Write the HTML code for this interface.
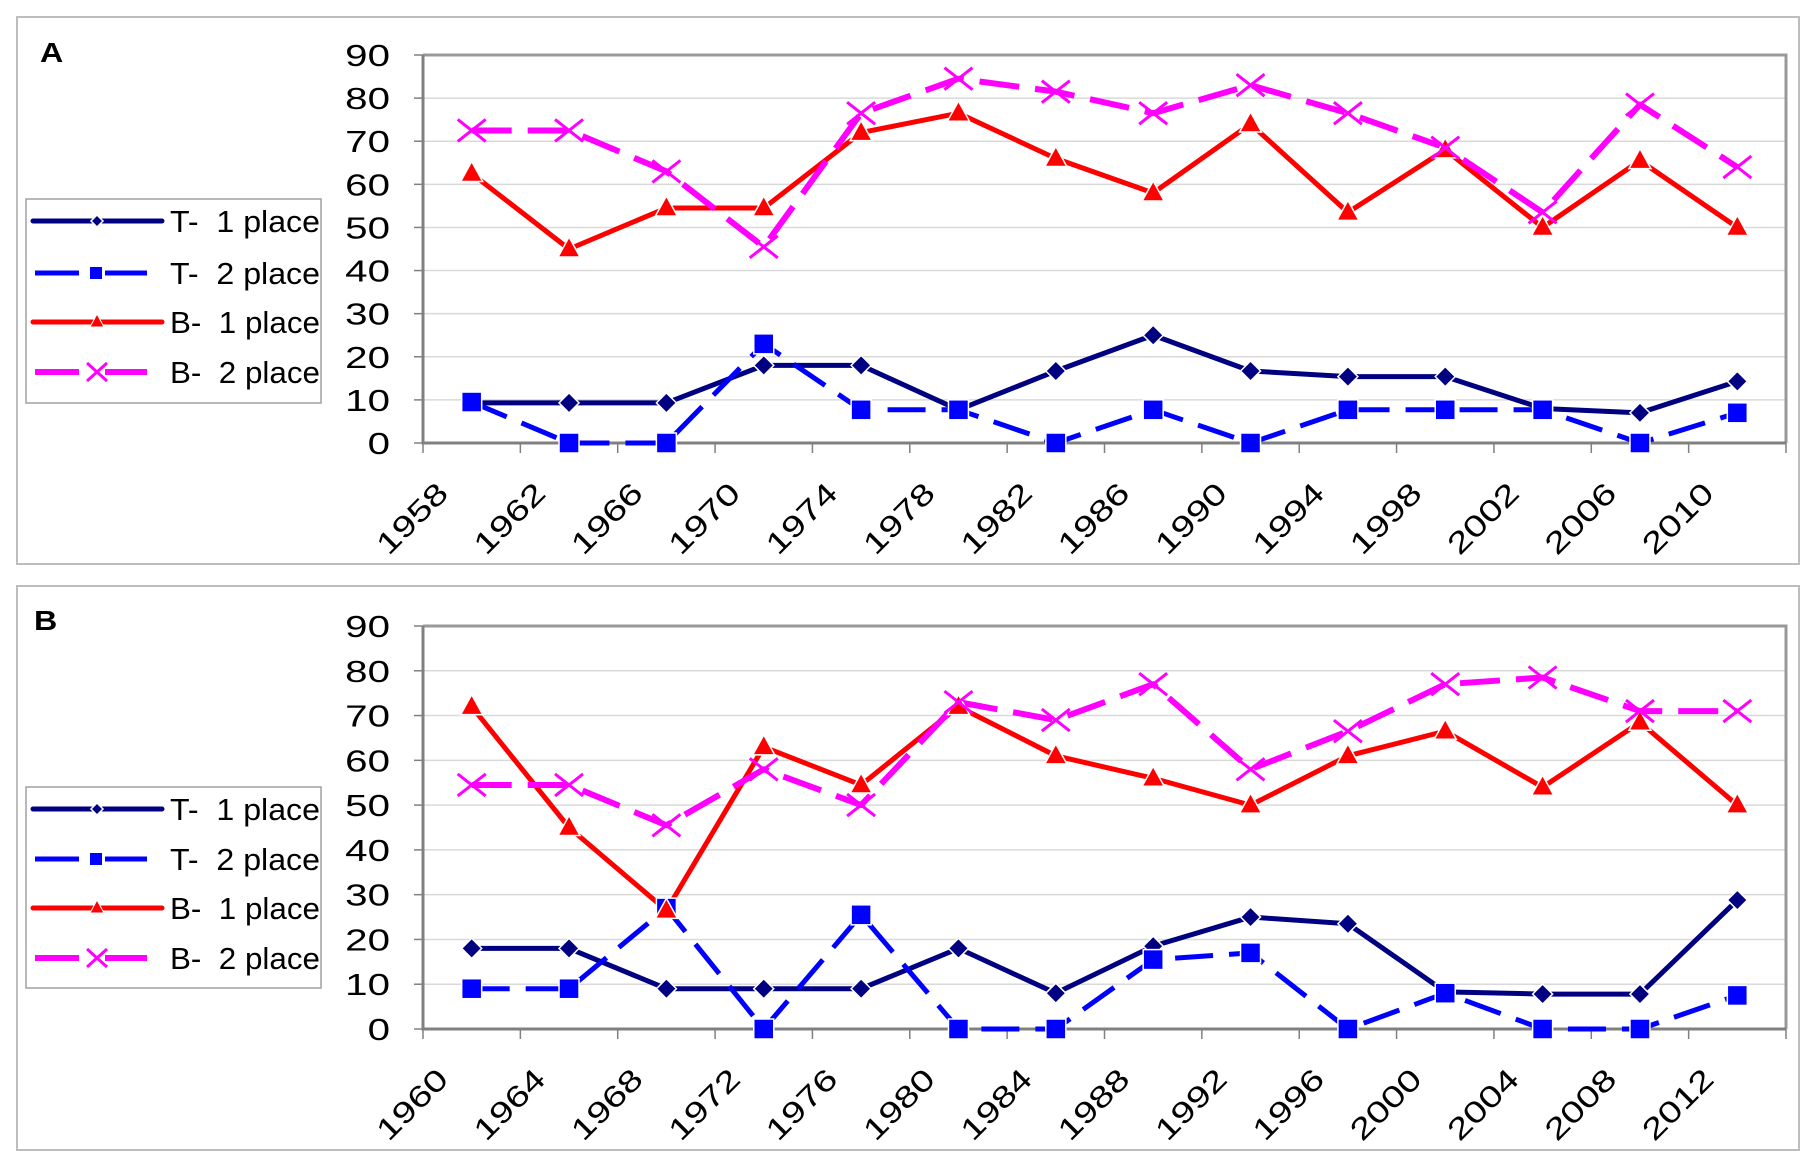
<!DOCTYPE html>
<html><head><meta charset="utf-8">
<style>
html,body{margin:0;padding:0;background:#fff;}
svg{display:block;}
text{font-family:"Liberation Sans",Arial,sans-serif;}
</style></head>
<body>
<svg id="s" width="1806" height="1171" xmlns="http://www.w3.org/2000/svg"></svg>
<script>
const s=document.getElementById('s');
let h='';
const panels=[
 {box:[17,17,1799,564],top:55,bot:443,label:'A',lab:[40,62],legTop:199,legBot:403,ents:[221,273,322,372],
  start:1958,
  T1:[9.3,9.3,9.3,18,18,7.7,16.7,25,16.7,15.4,15.4,8,7,14.3],
  T2:[9.5,0,0,23,7.7,7.7,0,7.7,0,7.7,7.7,7.7,0,7],
  B1:[62.5,45,54.5,54.5,72,76.5,66,58,74,53.5,68,50,65.5,50],
  B2:[72.5,72.5,63,45.5,76.5,84.5,81.5,76.5,83,76.5,68.5,53.5,78.5,64]},
 {box:[17,586,1799,1150],top:626,bot:1029,label:'B',lab:[34,630],legTop:787,legBot:988,ents:[809,859,908,958],
  start:1960,
  T1:[18,18,9,9,9,18,8,18.5,25,23.5,8.3,7.8,7.8,28.8],
  T2:[9,9,27,0,25.5,0,0,15.5,17,0,8,0,0,7.5],
  B1:[72,45,26.5,63,54.5,72,61,56,50,61,66.5,54,68.5,50],
  B2:[54.5,54.5,45.5,58,50,73,69,77,58,66.5,77,78.5,71,71]}
];
const L=423,R=1786,N=14,cw=(R-L)/N;
function mk(type,x,y){
 if(type=='T1') return `<polygon points="${x},${y-10} ${x+10},${y} ${x},${y+10} ${x-10},${y}" fill="#000080" stroke="#fff" stroke-width="1.5"/>`;
 if(type=='T2') return `<rect x="${x-10}" y="${y-10}" width="20" height="20" fill="#0000ff" stroke="#fff" stroke-width="1.5"/>`;
 if(type=='B1') return `<polygon points="${x},${y-12} ${x+11},${y+8} ${x-11},${y+8}" fill="#ff0000" stroke="#fff" stroke-width="1.5"/>`;
 return `<path d="M${x-14},${y-11}L${x+14},${y+11}M${x-14},${y+11}L${x+14},${y-11}" stroke="#ff00ff" stroke-width="3"/>`;
}
const sty={T1:['#000080','',5],T2:['#0000ff','38 16',5],B1:['#ff0000','',5],B2:['#ff00ff','40 16',6]};
const names={T1:'T-  1 place',T2:'T-  2 place',B1:'B-  1 place',B2:'B-  2 place'};
for(const p of panels){
 const [x1,y1,x2,y2]=p.box;
 h+=`<rect x="${x1}" y="${y1}" width="${x2-x1}" height="${y2-y1}" fill="#fff" stroke="#bdbdbd" stroke-width="2"/>`;
 h+=`<text x="0" y="0" font-size="28" font-weight="bold" transform="translate(${p.lab[0]},${p.lab[1]}) scale(1.15,1)">${p.label}</text>`;
 const st=(p.bot-p.top)/9;
 const Y=v=>p.bot-v/10*st;
 for(let i=0;i<=9;i++){
  const y=p.bot-i*st;
  if(i>0&&i<9) h+=`<line x1="${L}" y1="${y}" x2="${R}" y2="${y}" stroke="#d9d9d9" stroke-width="1.5"/>`;
  h+=`<line x1="${L-9}" y1="${y}" x2="${L}" y2="${y}" stroke="#808080" stroke-width="1.5"/>`;
  h+=`<text x="0" y="0" font-size="31" text-anchor="end" transform="translate(390,${y+11}) scale(1.3,1)">${i*10}</text>`;
 }
 h+=`<path d="M${L},${p.top}H${R}V${p.bot}" fill="none" stroke="#999" stroke-width="3"/>`;
 h+=`<path d="M${L},${p.top}V${p.bot}H${R}" fill="none" stroke="#808080" stroke-width="3"/>`;
 for(let k=0;k<=N;k++){
  const x=L+k*cw;
  h+=`<line x1="${x}" y1="${p.bot}" x2="${x}" y2="${p.bot+10}" stroke="#808080" stroke-width="1.5"/>`;
 }
 for(let k=0;k<N;k++){
  const x=L+k*cw;
  h+=`<text x="0" y="0" font-size="30" text-anchor="end" transform="translate(${x+27},${p.bot+52}) rotate(-45) scale(1.3,1)">${p.start+4*k}</text>`;
 }
 for(const key of ['T1','T2','B1','B2']){
  const [c,d,w]=sty[key];
  const pts=p[key].map((v,i)=>`${L+cw/2+i*cw},${Y(v)}`).join(' ');
  h+=`<polyline points="${pts}" fill="none" stroke="${c}" stroke-width="${w}" ${d?`stroke-dasharray="${d}"`:''} stroke-linejoin="round"/>`;
 }
 for(const key of ['T1','T2','B1','B2']) p[key].forEach((v,i)=>{h+=mk(key,L+cw/2+i*cw,Y(v));});
 h+=`<rect x="26" y="${p.legTop}" width="295" height="${p.legBot-p.legTop}" fill="#fff" stroke="#a0a0a0" stroke-width="1.5"/>`;
 ['T1','T2','B1','B2'].forEach((key,j)=>{
  const y=p.ents[j]; const [c,d,w]=sty[key];
  if(d) h+=`<line x1="35" y1="${y}" x2="79" y2="${y}" stroke="${c}" stroke-width="${w}"/><line x1="105" y1="${y}" x2="147" y2="${y}" stroke="${c}" stroke-width="${w}"/>`;
  else h+=`<line x1="33" y1="${y}" x2="162" y2="${y}" stroke="${c}" stroke-width="${w}" stroke-linecap="round"/>`;
  let m='';
  if(key=='T1') m=`<polygon points="97,${y-6} 103,${y} 97,${y+6} 91,${y}" fill="#000080" stroke="#fff" stroke-width="1.5"/>`;
  if(key=='T2') m=`<rect x="90" y="${y-6}" width="12" height="12" fill="#0000ff"/>`;
  if(key=='B1') m=`<polygon points="97,${y-8} 104,${y+5} 90,${y+5}" fill="#ff0000" stroke="#fff" stroke-width="1"/>`;
  if(key=='B2') m=`<path d="M87,${y-9}L107,${y+9}M87,${y+9}L107,${y-9}" stroke="#ff00ff" stroke-width="3"/>`;
  h+=m;
  h+=`<text x="170" y="${y+11}" font-size="31" textLength="150" lengthAdjust="spacingAndGlyphs" xml:space="preserve">${names[key]}</text>`;
 });
}
s.innerHTML=h;
</script>
</body></html>
